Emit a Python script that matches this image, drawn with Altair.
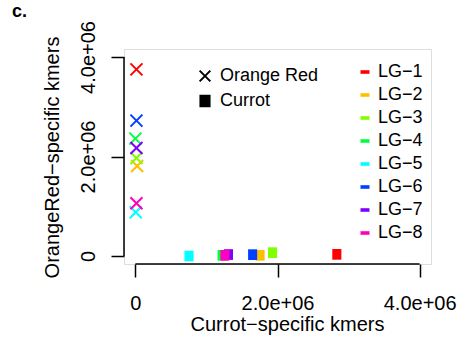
import altair as alt
import pandas as pd

# ---- data ----
groups = ["LG\u22121", "LG\u22122", "LG\u22123", "LG\u22124", "LG\u22125", "LG\u22126", "LG\u22127", "LG\u22128"]
colors = ["#FF0000", "#FFBF00", "#80FF00", "#00FF40", "#00FFFF", "#0040FF", "#8000FF", "#FF00BF"]

orangered_currot = [15000, 25000, 15000, 0, 5000, 15000, 15000, 15000]
orangered_orangered = [3750000, 1810000, 1970000, 2360000, 880000, 2720000, 2170000, 1060000]

currot_currot = [2835000, 1755000, 1930000, 1220000, 755000, 1650000, 1310000, 1260000]
currot_orangered = [34000, 14000, 68000, 14000, 0, 28000, 30000, 14000]

tick_values = [0, 2000000, 4000000]
tick_labels = ["0", "2.0e+06", "4.0e+06"]
types = ["Orange Red", "Currot"]

rows = []
for g, cx, cy in zip(groups, orangered_currot, orangered_orangered):
    rows.append({"LG": g, "type": "Orange Red", "currot": cx, "orangered": cy})
for g, cx, cy in zip(groups, currot_currot, currot_orangered):
    rows.append({"LG": g, "type": "Currot", "currot": cx, "orangered": cy})
df = pd.DataFrame(rows)
axis_df = pd.DataFrame({"lo": [min(tick_values)], "hi": [max(tick_values)]})

FONT = "Liberation Sans"
W, H = 307, 215
pad = 0.04 * (max(tick_values) - min(tick_values))
dom = [min(tick_values) - pad, max(tick_values) + pad]

label_expr = " : ".join(
    f"datum.value == {v} ? '{l}'" for v, l in zip(tick_values, tick_labels)
) + " : ''"

xpath = "M-1,-1L1,1M-1,1L1,-1"
rectpath = "M-0.85,-1H0.85V1H-0.85Z"
dashpath = "M-1,-0.4H1V0.4H-1Z"

xenc = alt.X(
    "currot:Q",
    scale=alt.Scale(domain=dom, nice=False, zero=False),
    axis=alt.Axis(
        values=tick_values, labelExpr=label_expr, domain=False, grid=False,
        tickSize=13, tickWidth=1.5, tickColor="black",
        labelFontSize=20, labelFont=FONT, labelColor="black",
        labelBaseline="alphabetic", labelPadding=32, labelFlush=False,
        title="Currot\u2212specific kmers", titleFontSize=20, titleFont=FONT,
        titleFontWeight="normal", titleColor="black",
        titleX=163, titleY=66, titleBaseline="alphabetic", titleAlign="center",
    ),
)
yenc = alt.Y(
    "orangered:Q",
    scale=alt.Scale(domain=dom, nice=False, zero=False),
    axis=alt.Axis(
        values=tick_values, labelExpr=label_expr, domain=False, grid=False,
        tickSize=13, tickWidth=1.5, tickColor="black",
        labelFontSize=20, labelFont=FONT, labelColor="black",
        labelAngle=270, labelAlign="center", labelBaseline="alphabetic",
        labelPadding=17, labelFlush=False,
        title="OrangeRed\u2212specific kmers", titleFontSize=20, titleFont=FONT,
        titleFontWeight="normal", titleColor="black",
        titleX=-66, titleY=108, titleAngle=270, titleAlign="center",
        titleBaseline="alphabetic",
    ),
)

color = alt.Color(
    "LG:N",
    scale=alt.Scale(domain=groups, range=colors),
    legend=alt.Legend(
        title=None, orient="none", legendX=232, legendY=14, padding=0,
        symbolType=dashpath, symbolSize=81, symbolStrokeWidth=0,
        labelFontSize=18, labelFont=FONT, labelColor="black",
        labelOffset=4, rowPadding=5,
    ),
)
shape = alt.Shape(
    "type:N",
    scale=alt.Scale(domain=types, range=[xpath, rectpath]),
    legend=alt.Legend(
        title=None, orient="none", legendX=72, legendY=18, padding=0,
        symbolSize=115, symbolFillColor="black", symbolStrokeColor="black",
        symbolStrokeWidth=2, labelFontSize=18, labelFont=FONT,
        labelColor="black", labelOffset=6, rowPadding=5,
    ),
)

base = alt.Chart(df)
squares = base.transform_filter(alt.datum.type == "Currot").mark_point(
    filled=True, size=114, opacity=1
).encode(x=xenc, y=yenc, color=color, shape=shape, order=alt.Order("LG:N"))
crosses = base.transform_filter(alt.datum.type == "Orange Red").mark_point(
    filled=False, size=144, strokeWidth=2, opacity=1
).encode(x=xenc, y=yenc, color=color, shape=shape)

yaxis_line = alt.Chart(axis_df).mark_rule(color="black", strokeWidth=1.5).encode(
    x=alt.value(0), y=alt.Y("lo:Q", scale=alt.Scale(domain=dom, nice=False, zero=False)),
    y2="hi:Q",
)
xaxis_line = alt.Chart(axis_df).mark_rule(color="black", strokeWidth=1.5).encode(
    y=alt.value(H), x=alt.X("lo:Q", scale=alt.Scale(domain=dom, nice=False, zero=False)),
    x2="hi:Q",
)

chart = alt.layer(yaxis_line, xaxis_line, squares, crosses).properties(
    width=W, height=H,
    autosize=alt.AutoSizeParams(type="none"),
    padding={"left": 124, "top": 49, "right": 28, "bottom": 73},
    title=alt.TitleParams(
        text="c.", anchor="start", frame="group", fontSize=18, fontWeight="bold",
        font=FONT, color="black", dx=-112, offset=0,
    ),
).configure_view(stroke=None).configure(background="white")

chart.save("out.html", embed_options={"renderer": "svg", "actions": False})
